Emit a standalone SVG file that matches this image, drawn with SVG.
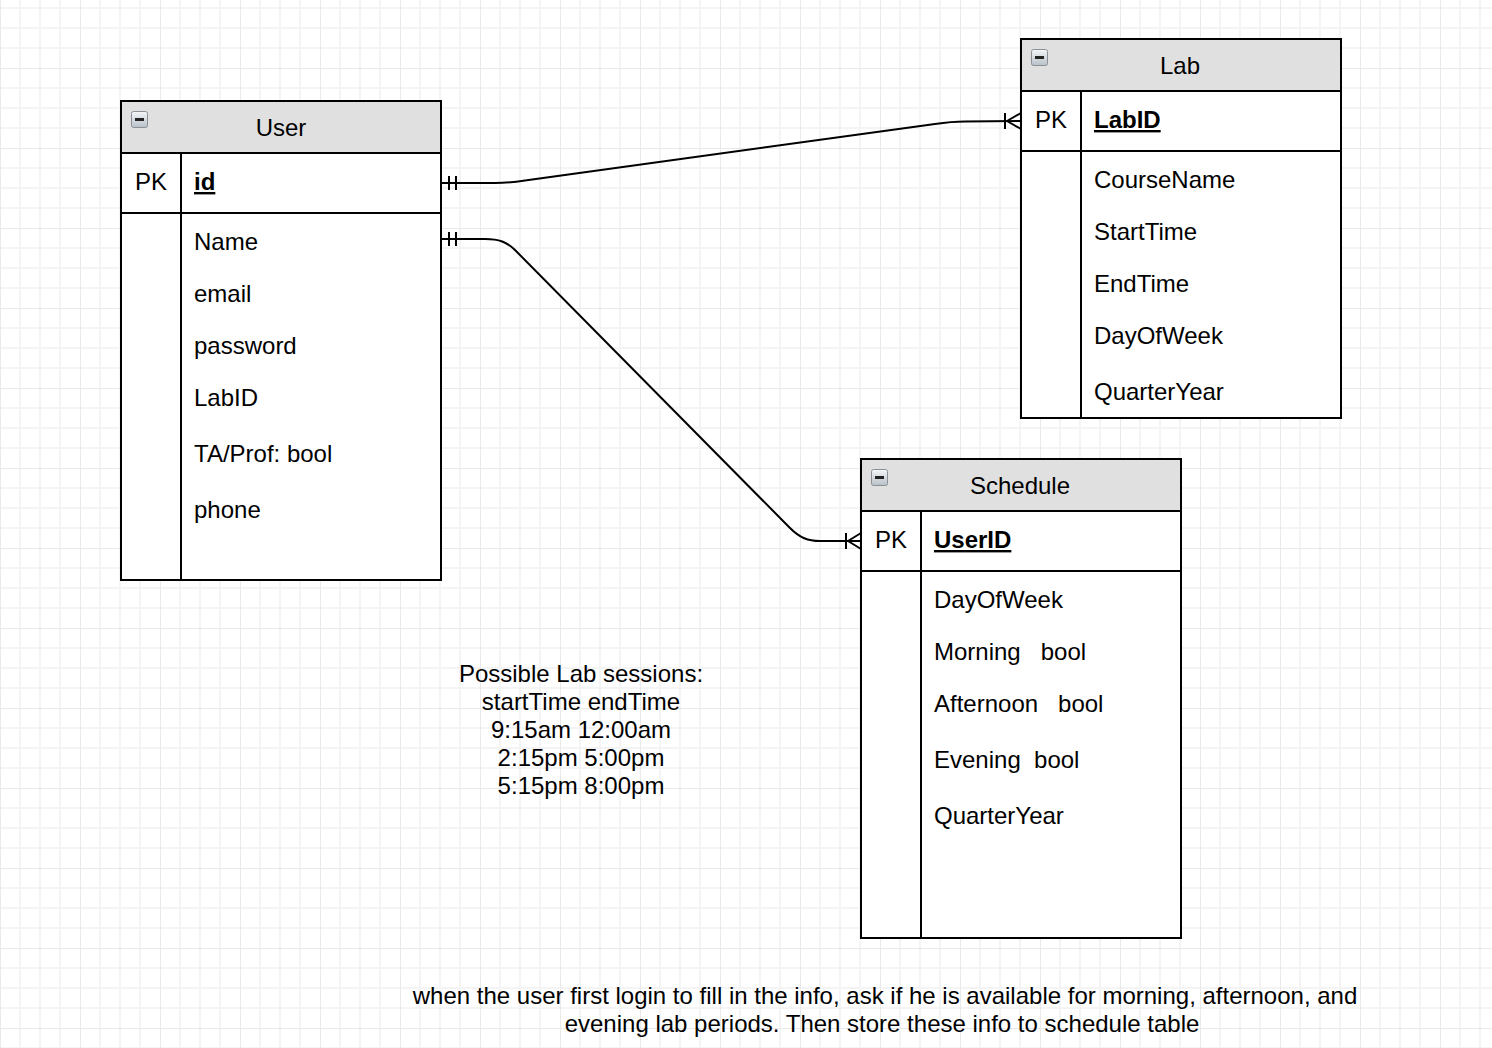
<svg xmlns="http://www.w3.org/2000/svg" width="1492" height="1048" viewBox="0 0 1492 1048">
<style>
  text { font-family: "Liberation Sans", Arial, Helvetica, sans-serif; font-size: 24px; fill: #000; white-space: pre; }
  .title { text-anchor: middle; }
  .key { font-weight: bold; text-decoration: underline; }
  .box { fill: #fff; stroke: #000; stroke-width: 2; }
  .head { fill: #e0e0e0; stroke: #000; stroke-width: 2; }
  .ln { stroke: #000; stroke-width: 2; fill: none; }
  .note { text-anchor: middle; }
</style>
<defs>
  <pattern id="grid" x="0" y="68" width="80" height="80" patternUnits="userSpaceOnUse">
    <path d="M20,0 V80 M40,0 V80 M60,0 V80 M0,20 H80 M0,40 H80 M0,60 H80" stroke="#f4f4f4" stroke-width="2" fill="none"/>
    <path d="M0,0 V80 M0,0 H80" stroke="#e9e9e9" stroke-width="2" fill="none"/>
  </pattern>
  <linearGradient id="ig" x1="0" y1="0" x2="0" y2="1">
    <stop offset="0" stop-color="#f4f6f8"/>
    <stop offset="1" stop-color="#b8c0c8"/>
  </linearGradient>
  <g id="minus">
    <rect x="0.5" y="0.5" width="16" height="16" rx="2" fill="url(#ig)" stroke="#8a9096" stroke-width="1"/>
    <rect x="4" y="7" width="9" height="3" fill="#222"/>
  </g>
</defs>
<rect width="1492" height="1048" fill="#fff"/>
<rect width="1492" height="1048" fill="url(#grid)"/>

<g id="connectors">
  <path class="ln" d="M441,183 L495,183 C508,183 515,182 525,180.5 L935,124 C945,122.5 952,121.5 965,121.5 L1021,121"/>
  <path class="ln" d="M449,176 V190 M456,176 V190"/>
  <path class="ln" d="M1005,113 V129 M1007,121 L1021,113 M1007,121 L1021,129"/>
  <path class="ln" d="M441,239 L485,239 C499,239 507,242 515,250 L790,528 C800,538 808,541 820,541 L861,541"/>
  <path class="ln" d="M449,232 V246 M456,232 V246"/>
  <path class="ln" d="M846,533 V549 M848,541 L861,533 M848,541 L861,549"/>
</g>

<g id="user">
  <rect class="box" x="121" y="101" width="320" height="479"/>
  <rect class="head" x="121" y="101" width="320" height="52"/>
  <use href="#minus" x="131" y="111"/>
  <text class="title" x="281" y="136">User</text>
  <line class="ln" x1="121" y1="213" x2="441" y2="213"/>
  <line class="ln" x1="181" y1="153" x2="181" y2="580"/>
  <text x="135" y="190">PK</text>
  <text class="key" x="194" y="190">id</text>
  <text x="194" y="250">Name</text>
  <text x="194" y="302">email</text>
  <text x="194" y="354">password</text>
  <text x="194" y="406">LabID</text>
  <text x="194" y="462">TA/Prof: bool</text>
  <text x="194" y="518">phone</text>
</g>

<g id="lab">
  <rect class="box" x="1021" y="39" width="320" height="379"/>
  <rect class="head" x="1021" y="39" width="320" height="52"/>
  <use href="#minus" x="1031" y="49"/>
  <text class="title" x="1180" y="74">Lab</text>
  <line class="ln" x1="1021" y1="151" x2="1341" y2="151"/>
  <line class="ln" x1="1081" y1="91" x2="1081" y2="418"/>
  <text x="1035" y="128">PK</text>
  <text class="key" x="1094" y="128">LabID</text>
  <text x="1094" y="188">CourseName</text>
  <text x="1094" y="240">StartTime</text>
  <text x="1094" y="292">EndTime</text>
  <text x="1094" y="344">DayOfWeek</text>
  <text x="1094" y="400">QuarterYear</text>
</g>

<g id="schedule">
  <rect class="box" x="861" y="459" width="320" height="479"/>
  <rect class="head" x="861" y="459" width="320" height="52"/>
  <use href="#minus" x="871" y="469"/>
  <text class="title" x="1020" y="494">Schedule</text>
  <line class="ln" x1="861" y1="571" x2="1181" y2="571"/>
  <line class="ln" x1="921" y1="511" x2="921" y2="938"/>
  <text x="875" y="548">PK</text>
  <text class="key" x="934" y="548">UserID</text>
  <text x="934" y="608">DayOfWeek</text>
  <text x="934" y="660">Morning   bool</text>
  <text x="934" y="712">Afternoon   bool</text>
  <text x="934" y="768">Evening  bool</text>
  <text x="934" y="824">QuarterYear</text>
</g>

<g id="sessions-note">
  <text class="note" x="581" y="682">Possible Lab sessions:</text>
  <text class="note" x="581" y="710">startTime endTime</text>
  <text class="note" x="581" y="738">9:15am 12:00am</text>
  <text class="note" x="581" y="766">2:15pm 5:00pm</text>
  <text class="note" x="581" y="794">5:15pm 8:00pm</text>
</g>

<g id="bottom-note">
  <text class="note" x="885" y="1004">when the user first login to fill in the info, ask if he is available for morning, afternoon, and</text>
  <text class="note" x="882" y="1032">evening lab periods. Then store these info to schedule table</text>
</g>
</svg>
